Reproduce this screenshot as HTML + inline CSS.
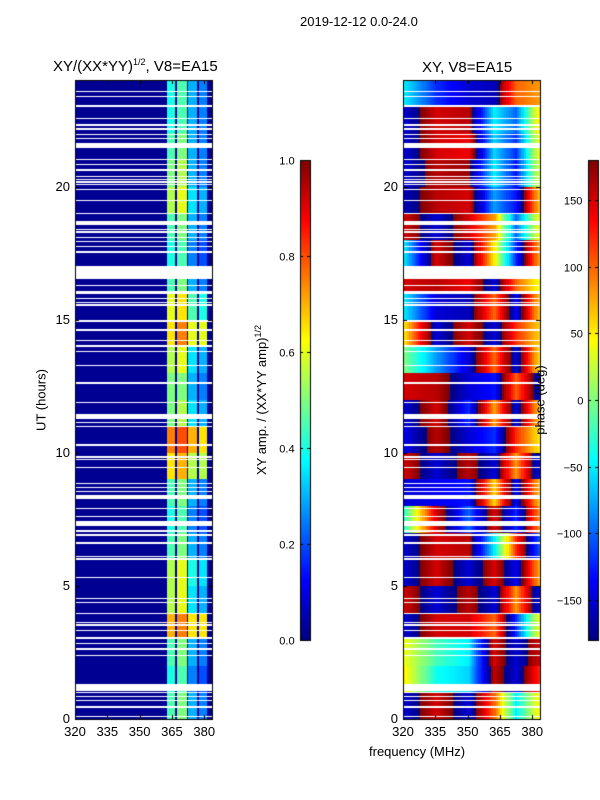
<!DOCTYPE html>
<html><head><meta charset="utf-8">
<style>
body{margin:0;background:#fff;}
#root{position:relative;width:600px;height:800px;overflow:hidden;font-family:"Liberation Sans",sans-serif;color:#000;}
canvas{position:absolute;left:0;top:0;}
.t{position:absolute;white-space:nowrap;font-size:13px;}
.rot{position:absolute;white-space:nowrap;font-size:13px;transform:translate(-50%,-50%) rotate(-90deg);}
.tick{position:absolute;font-size:13px;white-space:nowrap;}
</style></head><body>
<div id="root">
<canvas id="cv" width="600" height="800"></canvas>
<div class="t" style="left:300px;top:14px">2019-12-12 0.0-24.0</div>
<div class="t" style="left:53px;top:57px;font-size:15px">XY/(XX*YY)<sup style="font-size:9px">1/2</sup>, V8=EA15</div>
<div class="t" style="left:422px;top:59px;font-size:15px">XY, V8=EA15</div>
<div class="rot" style="left:41px;top:400px">UT (hours)</div>
<div class="rot" style="left:261px;top:400px">XY amp. / (XX*YY amp)<sup style="font-size:9px">1/2</sup></div>
<div class="rot" style="left:540px;top:400px">phase (deg)</div>
<div class="t" style="left:369px;top:744px">frequency (MHz)</div>
<div id="labels"></div>
</div>
<script>
// ---- data ----
const xTicks=[320,335,350,365,380];
const yTicks=[0,5,10,15,20];
const ampTicks=[0.0,0.2,0.4,0.6,0.8,1.0];
const phaseTicks=[-150,-100,-50,0,50,100,150];
const gaps=[[23.54,23.58],[23.35,23.39],[22.99,23.06],[22.55,22.59],[22.29,22.33],[22.14,22.18],[21.95,21.99],[21.80,21.84],[21.45,21.64],[21.01,21.05],[20.79,20.83],[20.60,20.64],[20.37,20.41],[20.26,20.30],[20.15,20.19],[20.04,20.08],[19.85,19.89],[19.44,19.48],[18.95,18.99],[18.54,18.72],[18.38,18.42],[18.27,18.31],[18.05,18.09],[17.90,17.94],[17.71,17.75],[17.52,17.56],[16.53,17.01],[16.25,16.29],[15.96,16.09],[15.79,15.83],[15.64,15.68],[15.53,15.57],[14.91,14.99],[14.59,14.63],[14.21,14.25],[13.99,14.03],[13.80,13.84],[13.24,13.28],[12.60,12.64],[11.85,11.89],[11.27,11.46],[11.10,11.14],[10.95,10.99],[10.27,10.31],[9.82,9.86],[9.71,9.75],[9.41,9.45],[8.81,8.85],[8.66,8.70],[8.51,8.55],[8.26,8.41],[7.90,7.94],[7.57,7.61],[7.25,7.44],[7.04,7.08],[6.89,6.93],[6.59,6.63],[6.10,6.14],[5.99,6.03],[5.31,5.35],[4.52,4.56],[4.34,4.38],[3.96,4.00],[3.62,3.66],[3.51,3.55],[3.32,3.36],[3.00,3.08],[2.83,2.87],[2.61,2.65],[2.38,2.42],[1.05,1.31],[0.96,1.00],[0.81,0.85],[0.66,0.70],[0.43,0.47],[0.09,0.13]];
const ampBands=[[362.6,366.4],[367.3,371.8],[372.6,376.6],[377.4,381.2]];
const ampBand1=[0.45,0.4,0.45,0.7,0.55,0.55,0.45,0.4,0.45,0.65,0.75,0.5,0.5,0.55,0.65,0.6,0.45,0.4,0.45,0.55,0.5,0.45,0.4,0.4];
const ampBand2=[0.5,0.45,0.5,0.75,0.6,0.6,0.5,0.45,0.5,0.7,0.8,0.55,0.5,0.6,0.75,0.65,0.5,0.45,0.5,0.6,0.55,0.5,0.45,0.45];
const ampBand3=[0.3,0.25,0.3,0.65,0.35,0.4,0.3,0.25,0.3,0.55,0.7,0.35,0.3,0.35,0.6,0.45,0.3,0.25,0.3,0.35,0.3,0.3,0.3,0.3];
const ampBand4=[0.25,0.2,0.25,0.65,0.3,0.35,0.25,0.2,0.25,0.55,0.65,0.3,0.25,0.3,0.6,0.4,0.25,0.2,0.25,0.3,0.25,0.25,0.25,0.25];
const ampBackground=0.02;
const phaseFreqs=[320,335,350,362,372,383];
const phaseRows=[
[-150,150,-150,100,-50,50],[50,-40,-60,160,-150,120],[40,-20,-50,150,-150,150],[-150,150,150,100,-120,50],
[150,-150,160,-150,80,-140],[-150,150,-150,150,-140,70],[-150,150,160,-50,120,-100],[-30,150,-100,150,-120,80],
[-150,-140,-130,60,-140,60],[150,-150,160,-150,80,-140],[-140,160,-150,-120,120,50],[-150,150,-120,80,-150,60],
[150,160,-150,-130,100,-150],[0,-80,-150,100,-150,50],[50,-150,150,-150,120,60],[-50,-150,-160,100,-140,60],
[150,160,140,-150,100,40],[-50,150,-150,50,-120,70],[150,-150,150,80,-100,50],[-160,160,150,-80,-130,60],
[-150,160,170,-50,-130,40],[-150,150,140,-60,-120,50],[-150,150,160,-50,-100,60],[-50,-120,-150,-160,100,80]];

// ---- geometry ----
const P1={x0:75,x1:212},P2={x0:403,x1:540},Y0=719,Y1=80;
const fx=(p,f)=>p.x0+(f-320)/(383.6-320)*(p.x1-p.x0);
const fy=u=>Y0-(u/24)*(Y0-Y1);
function jet(v){v=Math.max(0,Math.min(1,v));
 const r=Math.max(0,Math.min(1,Math.min(4*v-1.5,-4*v+4.5)));
 const g=Math.max(0,Math.min(1,Math.min(4*v-0.5,-4*v+3.5)));
 const b=Math.max(0,Math.min(1,Math.min(4*v+0.5,-4*v+2.5)));
 return `rgb(${r*255|0},${g*255|0},${b*255|0})`;}
const cv=document.getElementById('cv'),ctx=cv.getContext('2d');
const R=Math.round;
function rect(x0,y0,x1,y1){const a=R(x0),b=R(y0);ctx.fillRect(a,b,Math.max(1,R(x1)-a),Math.max(1,R(y1)-b));}
const bandArr=[ampBand1,ampBand2,ampBand3,ampBand4];
// left heatmap
for(let h=0;h<24;h++){
 ctx.fillStyle=jet(ampBackground);
 rect(P1.x0,fy(h+1),P1.x1,fy(h));
 ampBands.forEach((b,i)=>{ctx.fillStyle=jet(bandArr[i][h]);
  rect(fx(P1,b[0]),fy(h+1),fx(P1,b[1]),fy(h));});
}
// right heatmap (circular interpolation of phase)
const df=1;
for(let h=0;h<24;h++){const row=phaseRows[h];
 for(let f=320;f<383.6;f+=df){
  let k=0;while(k<phaseFreqs.length-2&&f>phaseFreqs[k+1])k++;
  const t=Math.min(1,(f-phaseFreqs[k])/(phaseFreqs[k+1]-phaseFreqs[k]));
  let d=row[k+1]-row[k]; if(d>180)d-=360; if(d<-180)d+=360;
  let ph=row[k]+d*t; if(ph>180)ph-=360; if(ph<-180)ph+=360;
  ctx.fillStyle=jet((ph+180)/360);
  rect(fx(P2,f),fy(h+1),Math.min(P2.x1,fx(P2,f+df)),fy(h));
 }}
// gaps
ctx.fillStyle='#fff';
gaps.forEach(g=>{const ya=fy(g[1]),yb=fy(g[0]);
 rect(P1.x0,ya,P1.x1,yb);
 rect(P2.x0,ya,P2.x1,yb);});
// colorbars
function cbar(x){for(let y=160;y<640;y++){ctx.fillStyle=jet((640-y)/480);ctx.fillRect(x,y,10,1);}
 ctx.strokeStyle='#000';ctx.lineWidth=1;ctx.strokeRect(x+0.5,160.5,10,480);}
cbar(300);cbar(588);
// frames & ticks
ctx.strokeStyle='#000';ctx.lineWidth=1;
[P1,P2].forEach(p=>{ctx.strokeRect(p.x0+0.5,Y1+0.5,p.x1-p.x0,Y0-Y1);
 ctx.beginPath();
 xTicks.forEach(t=>{const x=R(fx(p,t))+0.5;ctx.moveTo(x,Y0);ctx.lineTo(x,Y0-4);ctx.moveTo(x,Y1);ctx.lineTo(x,Y1+4);});
 yTicks.forEach(t=>{const y=R(fy(t))+0.5;ctx.moveTo(p.x0,y);ctx.lineTo(p.x0+4,y);ctx.moveTo(p.x1,y);ctx.lineTo(p.x1-4,y);});
 ctx.stroke();});
const L=document.getElementById('labels');
function lab(txt,x,y,name,align){const d=document.createElement('div');d.className='tick';d.textContent=txt;
 d.style.left=x+'px';d.style.top=y+'px';d.style.transform=align;
 
 
 L.appendChild(d);}
[P1,P2].forEach((p,i)=>{
 xTicks.forEach(t=>lab(String(t),fx(p,t),724,'x-tick-label','translateX(-50%)'));
 yTicks.forEach(t=>lab(String(t),p.x0-5,fy(t)-8,'y-tick-label','translateX(-100%)'));});
ampTicks.forEach(t=>{const y=640-t*480;lab(t.toFixed(1),296,y-7,'amp-colorbar-tick','translateX(-100%) scale(0.85)');
 ctx.beginPath();ctx.moveTo(300,R(y)+0.5);ctx.lineTo(303,R(y)+0.5);ctx.moveTo(310,R(y)+0.5);ctx.lineTo(307,R(y)+0.5);ctx.stroke();});
phaseTicks.forEach(t=>{const y=640-(t+180)/360*480;lab(String(t).replace('-','\u2212'),584,y-7,'phase-colorbar-tick','translateX(-100%) scale(0.85)');
 ctx.beginPath();ctx.moveTo(588,R(y)+0.5);ctx.lineTo(591,R(y)+0.5);ctx.moveTo(598,R(y)+0.5);ctx.lineTo(595,R(y)+0.5);ctx.stroke();});
</script>
</body></html>
